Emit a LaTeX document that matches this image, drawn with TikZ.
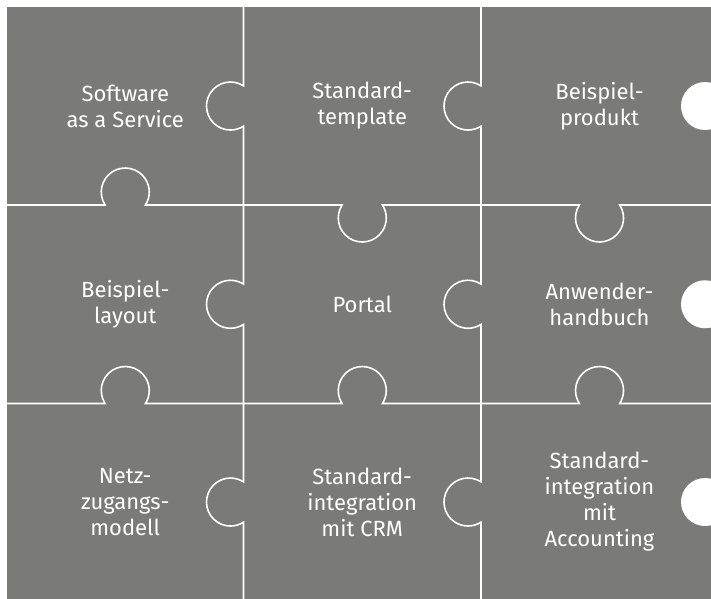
\documentclass[tikz,border=0pt]{standalone}
\usepackage{fontspec}
\setmainfont{Fira Sans}
\definecolor{puzzlegray}{RGB}{122,122,120}
\begin{document}
\begin{tikzpicture}[x=1pt,y=-1pt,
  seam/.style={white, line width=1.6pt},
  hole/.style={fill=white},
  piecelabel/.style={text=white, align=center, font=\fontsize{22}{26}\selectfont, inner sep=0pt}]
\useasboundingbox (0,0) rectangle (711,598);
\clip (0,0) rectangle (711,598);
\fill[puzzlegray] (7,7) rectangle (730,610);
% vertical seams (knobs bulge to the left)
\foreach \X in {243.5,481}{
  \draw[seam] (\X,0) -- (\X,85.83)
    arc[start angle=-57.2, end angle=-302.8, radius=24]
    -- (\X,284.08)
    arc[start angle=-57.2, end angle=-302.8, radius=24]
    -- (\X,481.83)
    arc[start angle=-57.2, end angle=-302.8, radius=24]
    -- (\X,610);
}
% horizontal seam between rows 1 and 2
\draw[seam] (7,205) -- (105.08,205)
  arc[start angle=147.24, end angle=392.76, radius=24]
  -- (342.08,205)
  arc[start angle=212.76, end angle=-32.76, radius=24]
  -- (579.33,205)
  arc[start angle=212.76, end angle=-32.76, radius=24]
  -- (730,205);
% horizontal seam between rows 2 and 3
\draw[seam] (7,403.5) -- (105.08,403.5)
  arc[start angle=147.24, end angle=392.76, radius=24]
  -- (342.08,403.5)
  arc[start angle=147.24, end angle=392.76, radius=24]
  -- (579.33,403.5)
  arc[start angle=147.24, end angle=392.76, radius=24]
  -- (730,403.5);
% sockets on the right edge
\fill[hole] (705,106) circle[radius=24];
\fill[hole] (705,304.25) circle[radius=24];
\fill[hole] (705,502) circle[radius=24];
% labels
\node[piecelabel] (saas) at (125.25,106) {Software\\as a Service};
\node[piecelabel] (tmpl) at (362.25,106) {Standard-\\template};
\node[piecelabel] (prod) at (599.5,106) {Beispiel-\\produkt};
\node[piecelabel] (layout) at (125.25,304.25) {Beispiel-\\layout};
\node[piecelabel] (portal) at (362.25,304.25) {Portal};
\node[piecelabel] (handbuch) at (599.5,304.25) {Anwender-\\handbuch};
\node[piecelabel] (netz) at (125.25,502) {Netz-\\zugangs-\\modell};
\node[piecelabel] (crm) at (362.25,502) {Standard-\\integration\\mit CRM};
\node[piecelabel] (acc) at (599.5,502) {Standard-\\integration\\mit\\Accounting};
\end{tikzpicture}
\end{document}
